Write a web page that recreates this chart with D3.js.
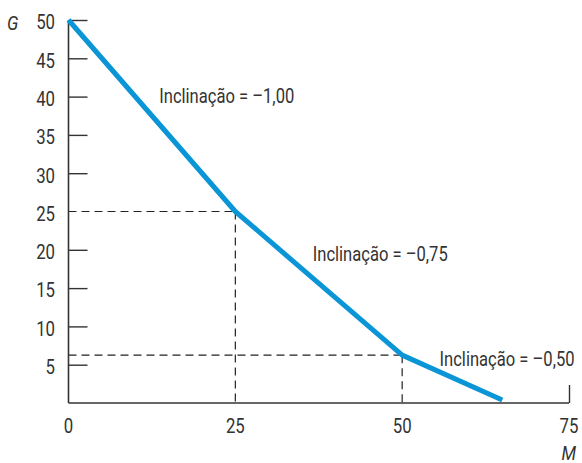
<!DOCTYPE html>
<html><head><meta charset="utf-8">
<script src="https://cdn.jsdelivr.net/npm/d3@7"></script>
<style>
body{margin:0;background:#fff;}
text{font-family:"Roboto","Liberation Sans",sans-serif;fill:#333;}
</style></head>
<body><svg id="c" width="582" height="463"></svg>
<script>
const xTicks = [0, 25, 50, 75];
const yTicks = [5, 10, 15, 20, 30, 35, 40, 45, 50];
const yTickLabels = [5, 10, 15, 20, 25, 30, 35, 40, 45, 50];
const lineM = [0, 25, 50, 65];
const lineG = [50, 25, 6.25, 0.4];
const guideM = [25, 50];
const guideG = [25, 6.25];
const slopeLabels = ["Inclinação = –1,00", "Inclinação = –0,75", "Inclinação = –0,50"];
const slopeLabelM = [13.6, 36.6, 55.6];
const slopeLabelG = [39.1, 18.5, 4.8];

const svg = d3.select("#c");
const x = d3.scaleLinear().domain([0, 75]).range([68.5, 569]);
const y = d3.scaleLinear().domain([0, 50]).range([403, 20]);
const axisColor = "#333";
const squeeze = sel => sel.each(function(){
  const n = this.getComputedTextLength();
  d3.select(this).attr("textLength", n * 0.86).attr("lengthAdjust", "spacingAndGlyphs");
});

// guides
const g = svg.append("g").attr("stroke", "#222").attr("stroke-width", 1.2).attr("stroke-dasharray", "8,5").attr("fill", "none");
guideM.forEach((m, i) => {
  g.append("line").attr("x1", x(0)).attr("x2", x(m)).attr("y1", y(guideG[i])).attr("y2", y(guideG[i]));
  g.append("line").attr("x1", x(m)).attr("x2", x(m)).attr("y1", y(guideG[i])).attr("y2", y(0));
});

// y axis
const yAxis = d3.axisRight(y).tickValues(yTicks).tickSize(19).tickFormat("");
const ya = svg.append("g").attr("transform", `translate(${x(0)},0)`).call(yAxis);
ya.select(".domain").remove();
ya.selectAll("line").attr("stroke", axisColor).attr("stroke-width", 1.4);
svg.append("g").selectAll("text").data(yTickLabels).join("text")
  .attr("x", 55).attr("y", d => y(d) + 2.5).attr("dy", "0.35em")
  .attr("text-anchor", "end").attr("font-size", 19.5).text(d => d).call(squeeze);

// x axis
const xAxis = d3.axisTop(x).tickValues([75]).tickSize(18).tickFormat("");
const xa = svg.append("g").attr("transform", `translate(0,${y(0)})`).call(xAxis);
xa.select(".domain").remove();
xa.selectAll("line").attr("stroke", axisColor).attr("stroke-width", 1.4);
svg.append("g").selectAll("text").data(xTicks).join("text")
  .attr("x", d => x(d)).attr("y", 433)
  .attr("text-anchor", "middle").attr("font-size", 19.5).text(d => d).call(squeeze);

// axis lines
svg.append("line").attr("x1", x(0)).attr("x2", x(0)).attr("y1", y(50)).attr("y2", y(0)).attr("stroke", axisColor).attr("stroke-width", 1.6);
svg.append("line").attr("x1", x(0)).attr("x2", x(75)).attr("y1", y(0)).attr("y2", y(0)).attr("stroke", axisColor).attr("stroke-width", 1.6);

// line
const pts = lineM.map((m, i) => [m, lineG[i]]);
svg.append("path").datum(pts)
  .attr("d", d3.line().x(d => x(d[0])).y(d => y(d[1])))
  .attr("fill", "none").attr("stroke", "#0a96d6").attr("stroke-width", 5).attr("stroke-linejoin", "round");

// slope labels
svg.append("g").selectAll("text").data(slopeLabels).join("text")
  .attr("x", (d, i) => x(slopeLabelM[i])).attr("y", (d, i) => y(slopeLabelG[i]))
  .attr("font-size", 20).attr("textLength", 135).attr("lengthAdjust", "spacingAndGlyphs").text(d => d);

// axis names
svg.append("text").attr("x", 7).attr("y", 30).attr("font-size", 20).attr("font-style", "italic").text("G").call(squeeze);
svg.append("text").attr("x", 576).attr("y", 460).attr("text-anchor", "end").attr("font-size", 20).attr("font-style", "italic").text("M").call(squeeze);
</script></body></html>
